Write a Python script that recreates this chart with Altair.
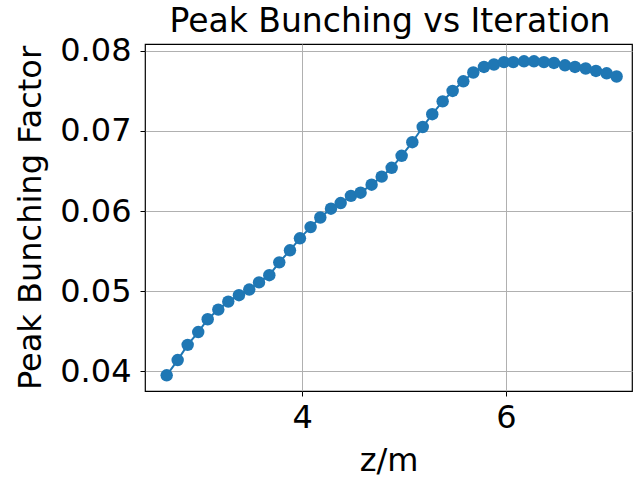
import altair as alt
import pandas as pd

# Position along the undulator (m)
z_m = [2.668, 2.776, 2.874, 2.978, 3.071, 3.175, 3.273, 3.378, 3.479, 3.575,
       3.676, 3.774, 3.879, 3.977, 4.082, 4.177, 4.282, 4.377, 4.478, 4.573,
       4.681, 4.780, 4.878, 4.976, 5.081, 5.183, 5.277, 5.379, 5.477, 5.582,
       5.680, 5.785, 5.883, 5.981, 6.073, 6.178, 6.276, 6.374, 6.472, 6.581,
       6.679, 6.784, 6.885, 6.990, 7.088]

# Peak bunching factor at each position
peak_bunching = [0.0395, 0.0414, 0.0433, 0.0449, 0.0465, 0.0477, 0.0487, 0.0495,
                 0.0502, 0.0511, 0.0520, 0.0536, 0.0551, 0.0566, 0.0580, 0.0592,
                 0.0603, 0.0610, 0.0619, 0.0623, 0.0633, 0.0643, 0.0654, 0.0669,
                 0.0686, 0.0705, 0.0721, 0.0737, 0.0750, 0.0762, 0.0773, 0.0780,
                 0.0783, 0.0786, 0.0786, 0.0787, 0.0787, 0.0786, 0.0785, 0.0782,
                 0.0780, 0.0778, 0.0775, 0.0772, 0.0768]

x_ticks = [4, 6]
y_ticks = [0.04, 0.05, 0.06, 0.07, 0.08]

TITLE = "Peak Bunching vs Iteration"

df = pd.DataFrame({"z": z_m, "b": peak_bunching})

FONT = "DejaVu Sans"
BLUE = "#1f77b4"

x_enc = alt.X(
    "z:Q",
    scale=alt.Scale(domain=[2.455, 7.239], nice=False, zero=False),
    axis=alt.Axis(
        values=x_ticks, format="d", title="z/m",
        titleY=79, titleBaseline="alphabetic",
    ),
)
y_enc = alt.Y(
    "b:Q",
    scale=alt.Scale(domain=[0.03754, 0.08086], nice=False, zero=False),
    axis=alt.Axis(
        values=y_ticks, format=".2f", title="Peak Bunching Factor",
        titleX=-105, titleY=173.5, titleAngle=270,
        titleBaseline="alphabetic", titleAlign="center",
    ),
)

base = alt.Chart(df).encode(x=x_enc, y=y_enc)
line = base.mark_line(color=BLUE, strokeWidth=2)
dots = base.mark_circle(color=BLUE, size=155, opacity=1)

# Chart heading, set just above the plot frame
heading = (
    alt.Chart(pd.DataFrame({"t": [TITLE]}))
    .mark_text(font=FONT, fontSize=33, color="black",
               align="center", baseline="alphabetic")
    .encode(text="t:N", x=alt.value(245), y=alt.value(-12))
)

chart = (
    alt.layer(line, dots, heading)
    .properties(
        width=487,
        height=347,
        padding={"left": 145, "top": 44, "right": 1, "bottom": 88},
        autosize=alt.AutoSizeParams(type="none"),
    )
    .configure_view(stroke="black", strokeWidth=1.2)
    .configure_axis(
        domain=False,
        grid=True, gridColor="#b0b0b0", gridWidth=1,
        ticks=True, tickColor="black", tickSize=5, tickWidth=1,
        labelFont=FONT, labelFontSize=32, labelColor="black",
        titleFont=FONT, titleFontSize=32, titleColor="black",
        titleFontWeight="normal",
    )
    .configure_axisX(labelPadding=6)
    .configure_axisY(labelPadding=9)
)

chart.save("out.html", embed_options={"renderer": "svg", "actions": False})
